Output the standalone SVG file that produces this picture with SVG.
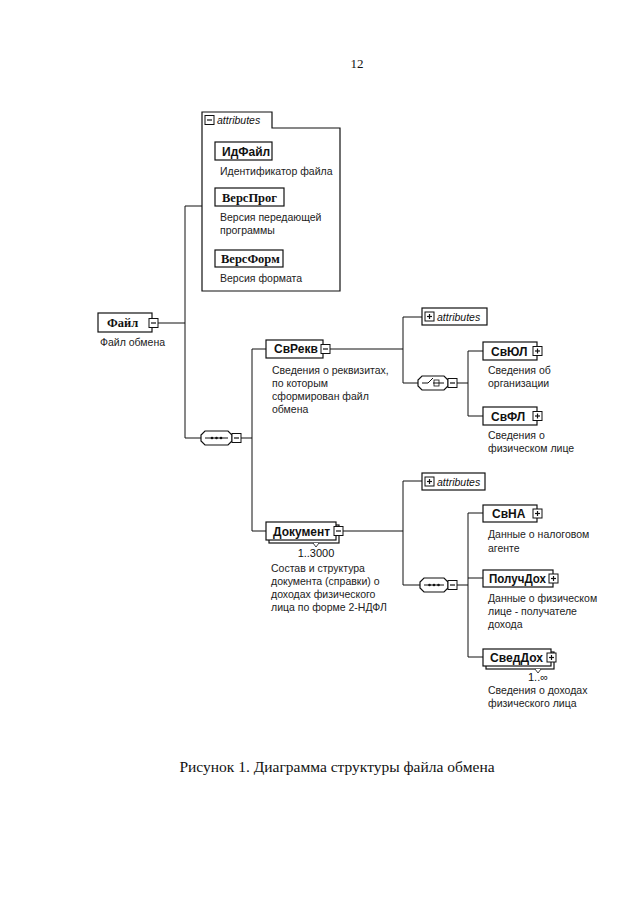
<svg xmlns="http://www.w3.org/2000/svg" xmlns:xlink="http://www.w3.org/1999/xlink" width="640" height="905" viewBox="0 0 640 905">
<style>
.ln{stroke:#111;stroke-width:1;fill:none}
.box{fill:#fff;stroke:#111;stroke-width:1.2}
.el{font-family:"Liberation Sans",Arial,sans-serif;font-size:12px;font-weight:bold;fill:#111}
.els{font-family:"Liberation Serif","Times New Roman",serif;font-size:12.5px;font-weight:bold;fill:#111}
.desc{font-family:"Liberation Sans",Arial,sans-serif;font-size:10.5px;fill:#222}
.att{font-family:"Liberation Sans",Arial,sans-serif;font-size:10.5px;font-style:italic;fill:#111}
.occ{font-family:"Liberation Sans",Arial,sans-serif;font-size:11px;fill:#111}
.pg{font-family:"Liberation Serif","Times New Roman",serif;fill:#111}
</style>
<defs>
<g id="minus"><rect x="0" y="0" width="9" height="9" fill="#fff" stroke="#111" stroke-width="1"/><line x1="2" y1="4.5" x2="7" y2="4.5" stroke="#111" stroke-width="1.2"/></g>
<g id="plus"><rect x="0" y="0" width="9" height="9" fill="#fff" stroke="#111" stroke-width="1"/><line x1="2" y1="4.5" x2="7" y2="4.5" stroke="#111" stroke-width="1.2"/><line x1="4.5" y1="2" x2="4.5" y2="7" stroke="#111" stroke-width="1.2"/></g>
</defs>

<text class="pg" x="357" y="68" font-size="13" text-anchor="middle">12</text>

<g id="connectors">
<polyline class="ln" points="158,323 185,323"/>
<polyline class="ln" points="202,206 185,206 185,438 201,438"/>
<polyline class="ln" points="241,438 252,438"/>
<polyline class="ln" points="266,349 252,349 252,531 266,531"/>
<polyline class="ln" points="330,349 403,349"/>
<polyline class="ln" points="422,317 403,317 403,383 418,383"/>
<polyline class="ln" points="457,383 468,383"/>
<polyline class="ln" points="483,351 468,351 468,416 483,416"/>
<polyline class="ln" points="343,531 403,531"/>
<polyline class="ln" points="422,481 403,481 403,585 420,585"/>
<polyline class="ln" points="457,585 468,585"/>
<polyline class="ln" points="483,513 468,513 468,657 483,657"/>
<polyline class="ln" points="468,578 483,578"/>
</g>

<g id="attributes-file">
<path class="box" d="M202,291 V112 H272 V128 H340 V291 Z"/>
<use xlink:href="#minus" x="205" y="115.5"/>
<text class="att" x="217" y="124">attributes</text>
<g id="IdFile">
<rect class="box" x="215" y="142" width="57" height="18"/>
<text class="el" x="222" y="156">ИдФайл</text>
<text class="desc" x="220" y="175">Идентификатор файла</text>
</g>
<g id="VersProg">
<rect class="box" x="215" y="188" width="69" height="18"/>
<text class="els" x="222" y="202">ВерсПрог</text>
<text class="desc" x="220" y="221">Версия передающей</text>
<text class="desc" x="220" y="234">программы</text>
</g>
<g id="VersForm">
<rect class="box" x="215" y="250" width="68" height="17"/>
<text class="els" x="221" y="263">ВерсФорм</text>
<text class="desc" x="220" y="282">Версия формата</text>
</g>
</g>

<g id="File">
<rect class="box" x="98" y="313" width="54" height="19"/>
<text class="els" x="107" y="327">Файл</text>
<use xlink:href="#minus" x="149" y="318.5"/>
<text class="desc" x="100" y="346">Файл обмена</text>
</g>

<g id="seq1">
<path class="box" d="M205,431 H228 L232,435 V441 L228,445 H205 L201,441 V435 Z"/>
<line class="ln" x1="205" y1="438" x2="228" y2="438"/>
<circle cx="212" cy="438" r="1.3" fill="#111"/><circle cx="216.5" cy="438" r="1.3" fill="#111"/><circle cx="221" cy="438" r="1.3" fill="#111"/>
<use xlink:href="#minus" x="232" y="433.5"/>
</g>

<g id="SvRekv">
<rect class="box" x="266" y="340" width="57" height="18"/>
<text class="el" x="274" y="353">СвРекв</text>
<use xlink:href="#minus" x="321" y="344.5"/>
<text class="desc" x="272" y="374">Сведения о реквизитах,</text>
<text class="desc" x="272" y="387">по которым</text>
<text class="desc" x="272" y="400">сформирован файл</text>
<text class="desc" x="272" y="413">обмена</text>
</g>

<g id="attributes-svrekv">
<rect class="box" x="422" y="308" width="65" height="17"/>
<use xlink:href="#plus" x="425" y="312"/>
<text class="att" x="437" y="321">attributes</text>
</g>

<g id="choice">
<path class="box" d="M422,376 H444 L448,380 V386 L444,390 H422 L418,386 V380 Z"/>
<polyline class="ln" points="422,383 428,383 433,378"/>
<line class="ln" x1="433" y1="383" x2="444" y2="383"/>
<rect x="434" y="380" width="5" height="6" fill="none" stroke="#111" stroke-width="0.8"/>
<use xlink:href="#minus" x="448" y="378.5"/>
</g>

<g id="SvUL">
<rect class="box" x="483" y="342" width="54" height="18"/>
<text class="el" x="491" y="356">СвЮЛ</text>
<use xlink:href="#plus" x="533" y="346.5"/>
<text class="desc" x="488" y="374">Сведения об</text>
<text class="desc" x="488" y="387">организации</text>
</g>

<g id="SvFL">
<rect class="box" x="483" y="407" width="54" height="18"/>
<text class="el" x="491" y="421">СвФЛ</text>
<use xlink:href="#plus" x="533" y="411.5"/>
<text class="desc" x="488" y="439">Сведения о</text>
<text class="desc" x="488" y="452">физическом лице</text>
</g>

<g id="Document">
<rect class="box" x="269" y="525" width="70" height="18"/>
<rect class="box" x="266" y="522" width="70" height="18"/>
<path d="M313,543 L316,547 L319,543" fill="#fff" stroke="#111" stroke-width="0.8"/>
<text class="el" x="273" y="536" textLength="57" lengthAdjust="spacingAndGlyphs">Документ</text>
<use xlink:href="#minus" x="334" y="526.5"/>
<text class="occ" x="316" y="557" text-anchor="middle">1..3000</text>
<text class="desc" x="271" y="572">Состав и структура</text>
<text class="desc" x="271" y="585">документа (справки) о</text>
<text class="desc" x="271" y="598">доходах физического</text>
<text class="desc" x="271" y="611">лица по форме 2-НДФЛ</text>
</g>

<g id="attributes-doc">
<rect class="box" x="422" y="473" width="63" height="17"/>
<use xlink:href="#plus" x="425" y="477"/>
<text class="att" x="437" y="486">attributes</text>
</g>

<g id="seq2">
<path class="box" d="M424,578 H444 L448,582 V588 L444,592 H424 L420,588 V582 Z"/>
<line class="ln" x1="424" y1="585" x2="444" y2="585"/>
<circle cx="429.5" cy="585" r="1.3" fill="#111"/><circle cx="434" cy="585" r="1.3" fill="#111"/><circle cx="438.5" cy="585" r="1.3" fill="#111"/>
<use xlink:href="#minus" x="448" y="580.5"/>
</g>

<g id="SvNA">
<rect class="box" x="483" y="505" width="54" height="17"/>
<text class="el" x="492" y="518">СвНА</text>
<use xlink:href="#plus" x="533" y="509"/>
<text class="desc" x="488" y="538">Данные о налоговом</text>
<text class="desc" x="488" y="552">агенте</text>
</g>

<g id="PoluchDoh">
<rect class="box" x="483" y="570" width="70" height="17"/>
<text class="el" x="489" y="583" textLength="57" lengthAdjust="spacingAndGlyphs">ПолучДох</text>
<use xlink:href="#plus" x="549" y="574"/>
<text class="desc" x="488" y="602">Данные о физическом</text>
<text class="desc" x="488" y="615">лице - получателе</text>
<text class="desc" x="488" y="628">дохода</text>
</g>

<g id="SvedDoh">
<rect class="box" x="486" y="652" width="68" height="17"/>
<rect class="box" x="483" y="649" width="68" height="17"/>
<path d="M535,669 L538,673 L541,669" fill="#fff" stroke="#111" stroke-width="0.8"/>
<text class="el" x="490" y="662" textLength="53" lengthAdjust="spacingAndGlyphs">СведДох</text>
<use xlink:href="#plus" x="547" y="653"/>
<text class="occ" x="538" y="681" text-anchor="middle">1..∞</text>
<text class="desc" x="488" y="694">Сведения о доходах</text>
<text class="desc" x="488" y="707">физического лица</text>
</g>

<text class="pg" x="337" y="772" font-size="15.5" text-anchor="middle">Рисунок 1. Диаграмма структуры файла обмена</text>
</svg>
